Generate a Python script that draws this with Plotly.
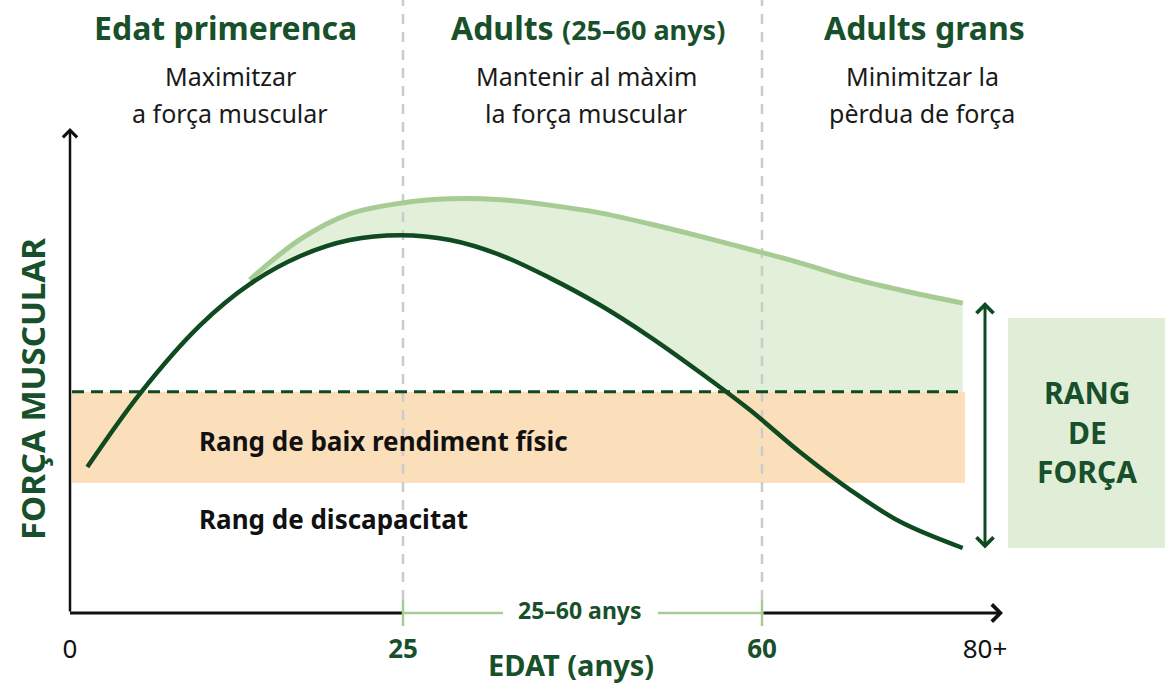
import numpy as np
import plotly.graph_objects as go

# ---------------- data ----------------
age_actual = [1.3, 5.3, 9.8, 13.5, 17.3, 21.0, 24.8, 29.6, 34.5, 39.3, 44.2,
              49.1, 53.9, 58.8, 63.4, 67.9, 72.4, 78.0]
strength_actual = [30.1, 45.4, 59.4, 67.8, 73.6, 76.9, 77.9, 76.9, 73.8, 69.1, 63.5,
                   56.9, 49.7, 41.9, 33.2, 25.4, 18.8, 13.4]

age_potential = [13.5, 17.3, 21.0, 24.8, 29.6, 34.5, 39.3, 44.2, 49.1, 53.9,
                 58.8, 63.4, 67.9, 72.4, 78.0]
strength_potential = [68.7, 77.1, 82.3, 84.5, 85.4, 85.2, 84.1, 82.5, 80.2, 77.7,
                      75.0, 72.2, 69.1, 66.6, 63.9]

low_perf_top = 45.6      # dashed threshold
low_perf_bottom = 26.8   # lower edge of low performance band
band_end_age = 78.2

tick_ages = [0, 25, 60, 80]
tick_labels = ["0", "25", "60", "80+"]

phase_titles = ["Edat primerenca", "Adults", "Adults grans"]
phase_sub = [["Maximitzar", "a força muscular"],
             ["Mantenir al màxim", "la força muscular"],
             ["Minimitzar la", "pèrdua de força"]]

# ---------------- scale helpers ----------------
PX0, PXU = 70.0, 13.32
PY0, PYU = 613.0, 4.85
H, BM = 686, 55


def px2u(px):
    return (px - PX0) / PXU


def py2v(py):
    return (PY0 - py) / PYU


def py2paper(py):
    return (H - BM - py) / (H - BM)


AGE_KNOTS = [0, 25, 60, 80]
U_KNOTS = [0, 25, px2u(762), px2u(985)]


def age2u(a):
    return np.interp(a, AGE_KNOTS, U_KNOTS)


DARK = "#0f4a20"
TEXTG = "#17502a"
LIGHT = "#a6cb93"
FILL = "#e2efd9"
ORANGE = "#fbdfbb"
BOX = "#e0eed8"
GRAY = "#cbcbcb"
FONT = "Noto Sans"

ua = age2u(age_actual)
up = age2u(age_potential)

fig = go.Figure()

# lower boundary for the gap fill (actual curve from where potential starts)
fig.add_trace(go.Scatter(x=ua[3:], y=strength_actual[3:], mode="lines",
                         line=dict(width=0, shape="spline", color=DARK),
                         hoverinfo="skip", showlegend=False))
fig.add_trace(go.Scatter(x=up, y=strength_potential, mode="lines",
                         line=dict(width=0, shape="spline", color=LIGHT),
                         fill="tonexty", fillcolor=FILL,
                         hoverinfo="skip", showlegend=False))
# white mask below threshold
mx0, mx1 = age2u(50), age2u(80)
fig.add_trace(go.Scatter(x=[mx0, mx1, mx1, mx0, mx0],
                         y=[0.4, 0.4, low_perf_top, low_perf_top, 0.4],
                         mode="lines", line=dict(width=0), fill="toself",
                         fillcolor="white", hoverinfo="skip", showlegend=False))
# orange band
bx0, bx1 = 0.15, age2u(band_end_age)
fig.add_trace(go.Scatter(x=[bx0, bx1, bx1, bx0, bx0],
                         y=[low_perf_bottom, low_perf_bottom, low_perf_top, low_perf_top, low_perf_bottom],
                         mode="lines", line=dict(width=0), fill="toself",
                         fillcolor=ORANGE, hoverinfo="skip", showlegend=False))
# gray vertical dashed phase separators
for a in [25, 60]:
    fig.add_trace(go.Scatter(x=[age2u(a), age2u(a)], y=[py2v(600), py2v(0)],
                             mode="lines", line=dict(color=GRAY, width=2.5, dash="10px,8px"),
                             hoverinfo="skip", showlegend=False))
# threshold dashed line
fig.add_trace(go.Scatter(x=[bx0, bx1], y=[low_perf_top, low_perf_top], mode="lines",
                         line=dict(color=DARK, width=3, dash="12px,7px"),
                         hoverinfo="skip", showlegend=False))
# potential curve
fig.add_trace(go.Scatter(x=up, y=strength_potential, mode="lines",
                         line=dict(color=LIGHT, width=5, shape="spline"),
                         hoverinfo="skip", showlegend=False))
# actual curve
fig.add_trace(go.Scatter(x=ua, y=strength_actual, mode="lines",
                         line=dict(color=DARK, width=4.5, shape="spline"),
                         hoverinfo="skip", showlegend=False))

shapes = []
# x axis segments
shapes.append(dict(type="line", xref="x", yref="y", x0=0, x1=age2u(25), y0=0, y1=0,
                   line=dict(color="#111111", width=3), layer="above"))
shapes.append(dict(type="line", xref="x", yref="y", x0=age2u(25), x1=px2u(503), y0=0, y1=0,
                   line=dict(color=LIGHT, width=2.5), layer="above"))
shapes.append(dict(type="line", xref="x", yref="y", x0=px2u(658), x1=age2u(60), y0=0, y1=0,
                   line=dict(color=LIGHT, width=2.5), layer="above"))
for a in [25, 60]:
    shapes.append(dict(type="line", xref="x", yref="y", x0=age2u(a), x1=age2u(a),
                       y0=py2v(626), y1=py2v(600), line=dict(color=LIGHT, width=2.5), layer="above"))
# right box
shapes.append(dict(type="rect", xref="x", yref="y", x0=px2u(1008), x1=px2u(1165),
                   y0=py2v(548), y1=py2v(318), fillcolor=BOX, line=dict(width=0), layer="below"))

ann = []
# y axis arrow
ann.append(dict(x=0, y=py2v(128), ax=0, ay=0, xref="x", yref="y", axref="x", ayref="y",
                showarrow=True, arrowhead=4, arrowsize=1.1, arrowwidth=2.5, arrowcolor="#111111", text=""))
# x axis arrow (after 60)
ann.append(dict(x=px2u(1003), y=0, ax=age2u(60), ay=0, xref="x", yref="y", axref="x", ayref="y",
                showarrow=True, arrowhead=4, arrowsize=1.1, arrowwidth=3, arrowcolor="#111111", text=""))
# double arrow for strength range
ann.append(dict(x=px2u(985), y=py2v(302), ax=px2u(985), ay=py2v(550), xref="x", yref="y",
                axref="x", ayref="y", showarrow=True, arrowhead=4, startarrowhead=4,
                arrowside="end+start", arrowsize=1.1, startarrowsize=1.1, arrowwidth=3,
                arrowcolor=DARK, text=""))


def txt(px, py, s, size, color, bold=False, xanchor="center", angle=0):
    ann.append(dict(x=px2u(px), xref="x", y=py2paper(py), yref="paper",
                    text=(f"<b>{s}</b>" if bold else s),
                    showarrow=False, xanchor=xanchor, yanchor="middle", textangle=angle,
                    font=dict(family=FONT, size=size, color=color)))


# phase headers
txt(225, 27, phase_titles[0], 32, TEXTG, bold=True)
ann.append(dict(x=px2u(588), xref="x", y=py2paper(27), yref="paper", showarrow=False,
                yanchor="middle",
                text=f"<b>{phase_titles[1]} <span style='font-size:27px'>(25–60 anys)</span></b>",
                font=dict(family=FONT, size=32, color=TEXTG)))
txt(924, 27, phase_titles[2], 32, TEXTG, bold=True)
for cx, lines in zip([230, 586, 922], phase_sub):
    txt(cx, 76, lines[0], 25, "#1a1a1a")
    txt(cx, 113, lines[1], 25, "#1a1a1a")

# band labels
txt(197, 441, "Rang de baix rendiment físic", 26, "#111111", bold=True, xanchor="left")
txt(197, 519, "Rang de discapacitat", 26, "#111111", bold=True, xanchor="left")

# right box text
for py, s in zip([392, 432, 471], ["RANG", "DE", "FORÇA"]):
    txt(1087, py, s, 30, TEXTG, bold=True)

# axis titles
txt(32, 389, "FORÇA MUSCULAR", 33, TEXTG, bold=True, angle=-90)
txt(571, 664, "EDAT (anys)", 29, TEXTG, bold=True)
# 25-60 segment label
txt(580, 610, "25–60 anys", 23, TEXTG, bold=True)

tick_text = []
for a, lab in zip(tick_ages, tick_labels):
    if a in (25, 60):
        tick_text.append(f"<b><span style='color:{TEXTG}'>{lab}</span></b>")
    else:
        tick_text.append(lab)

fig.update_layout(
    width=1175, height=H,
    margin=dict(l=0, r=0, t=0, b=BM),
    paper_bgcolor="white", plot_bgcolor="white",
    shapes=shapes, annotations=ann,
    xaxis=dict(range=[px2u(0), px2u(1175)], showgrid=False, zeroline=False, showline=False,
               tickvals=list(age2u(tick_ages)), ticktext=tick_text, ticks="",
               tickfont=dict(family=FONT, size=26, color="#111111"), fixedrange=True),
    yaxis=dict(range=[py2v(H - BM), py2v(0)], visible=False, fixedrange=True),
    showlegend=False,
)

fig.write_html("out.html", config={"displayModeBar": False},
               post_script="document.body.style.margin='0';")
